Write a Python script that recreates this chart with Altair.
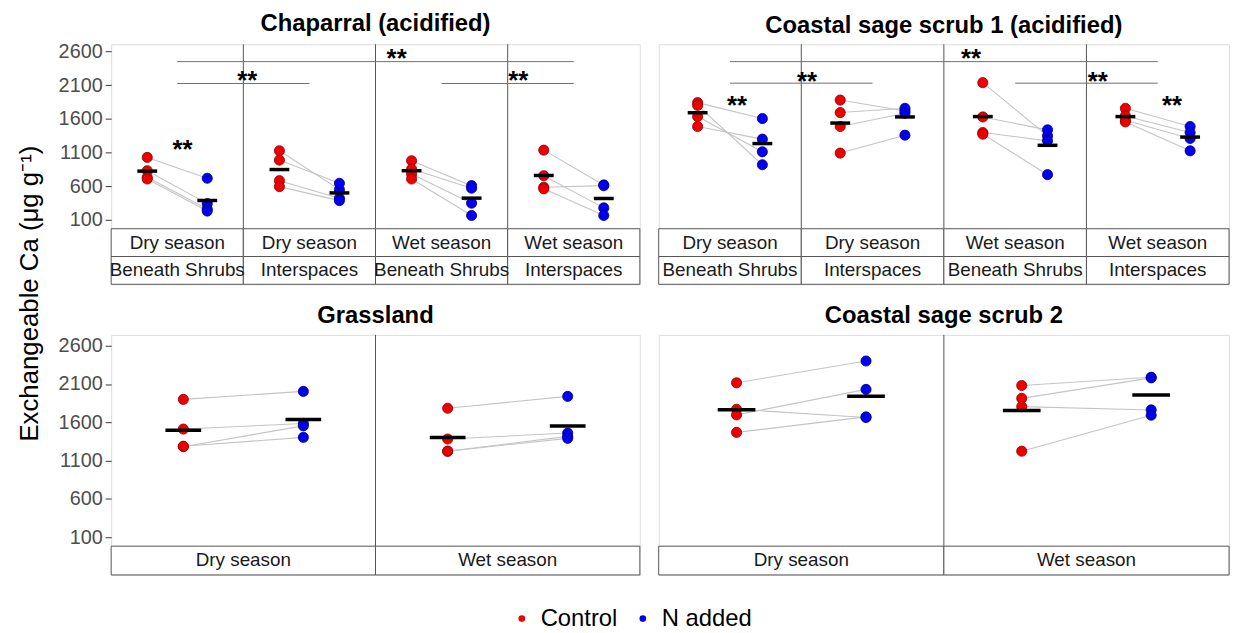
import altair as alt
import pandas as pd

FONT = "Liberation Sans"
TREAT = ["Control", "N added"]
FILLS = ["#ee0000", "#0000ee"]
OUTLINES = ["#8a0000", "#00008a"]
Y_TICKS = [100, 600, 1100, 1600, 2100, 2600]
Y_TITLE = "Exchangeable Ca (\u03bcg g\u207b\u00b9)"

# ---------------- data ----------------
# Chaparral (acidified): groups = season x location
chap_season = ["Dry season", "Dry season", "Wet season", "Wet season"]
chap_site = ["Beneath Shrubs", "Interspaces", "Beneath Shrubs", "Interspaces"]
chap_control = [[1027, 829, 731, 706], [1125, 987, 681, 593],
                [977, 854, 780, 706], [1135, 755, 584, 560]]
chap_nadded = [[717, 340, 260, 230], [548, 643, 421, 385],
               [607, 569, 347, 164], [618, 277, 607, 164]]

# Coastal sage scrub 1 (acidified)
css1_season = ["Dry season", "Dry season", "Wet season", "Wet season"]
css1_site = ["Beneath Shrubs", "Interspaces", "Beneath Shrubs", "Interspaces"]
css1_control = [[1841, 1801, 1634, 1486], [1879, 1693, 1486, 1091],
                [2137, 1628, 1397, 1372], [1756, 1643, 1579, 1554]]
css1_nadded = [[1604, 918, 1110, 1298], [1716, 1756, 1683, 1357],
               [1347, 1436, 1273, 770], [1486, 1397, 1308, 1125]]

# Grassland
grass_season = ["Dry season", "Wet season"]
grass_control = [[1900, 1512, 1282, 1288], [1784, 1382, 1223, 1223]]
grass_nadded = [[2004, 1585, 1554, 1404], [1939, 1460, 1417, 1391]]

# Coastal sage scrub 2
css2_season = ["Dry season", "Wet season"]
css2_control = [[2116, 1771, 1697, 1469], [2081, 1913, 1805, 1223]]
css2_nadded = [[2401, 1663, 2030, 1671], [2189, 2181, 1762, 1693]]

# significance brackets (group index from -> to, value level)
chap_bar_from = [0, 0, 2]
chap_bar_to = [3, 1, 3]
chap_bar_y = [2450, 2125, 2125]
chap_star_x = [0.54, 1.03, 2.16, 3.08]
chap_star_y = [1234, 2259, 2585, 2259]

css1_bar_from = [0, 0, 2]
css1_bar_to = [3, 1, 3]
css1_bar_y = [2450, 2130, 2130]
css1_star_x = [0.55, 1.04, 2.19, 3.08, 3.6]
css1_star_y = [1900, 2244, 2585, 2244, 1900]


def points_df(control, nadded):
    rows = []
    for g, (cs, ns) in enumerate(zip(control, nadded)):
        for r, (c, v) in enumerate(zip(cs, ns)):
            rows.append(dict(g=g, rep=r, treatment="Control", value=c))
            rows.append(dict(g=g, rep=r, treatment="N added", value=v))
    return pd.DataFrame(rows)


def strip_df(rows_labels):
    rows = []
    for ri, labels in enumerate(rows_labels):
        for g, lab in enumerate(labels):
            rows.append(dict(g=g, row=ri, label=lab))
    return pd.DataFrame(rows)


def make_panel(pts, n_groups, width, height, ydom, strip_rows, strip_h,
               tick_w, title, left_axis, bars=None, stars=None):
    xs = alt.Scale(domain=[0, n_groups], nice=False, zero=False)
    ys = alt.Scale(domain=ydom, nice=False, zero=False)
    if left_axis:
        yaxis = alt.Axis(values=Y_TICKS, format="d", grid=False, domain=False,
                         labelFontSize=20, labelFont=FONT, labelColor="#4d4d4d",
                         tickColor="#333333", tickSize=6, labelPadding=3)
    else:
        yaxis = None
    X = alt.X("xpos:Q", scale=xs, axis=None)
    Y = alt.Y("value:Q", scale=ys, axis=yaxis, title=None)

    base = alt.Chart(pts).transform_calculate(
        xpos="datum.g + (datum.treatment == 'Control' ? 0.273 : 0.727)")

    groups = pd.DataFrame(dict(g=list(range(n_groups))))
    seps = alt.Chart(groups).transform_filter("datum.g > 0").mark_rule(
        color="#555555", strokeWidth=1).encode(x=alt.X("g:Q", scale=xs, axis=None))

    lines = base.mark_line(color="#c4c4c4", strokeWidth=1.1).encode(
        X, Y, detail=["g:N", "rep:N"], order="xpos:Q")

    pts_layer = base.mark_point(filled=True, shape="circle", size=105,
                                strokeWidth=0.8, opacity=1).encode(
        X, Y,
        fill=alt.Fill("treatment:N",
                      scale=alt.Scale(domain=TREAT, range=FILLS),
                      legend=alt.Legend(title=None, orient="none", direction="horizontal",
                                        legendX=402, legendY=567,
                                        labelFontSize=24, labelFont=FONT, labelColor="black",
                                        symbolType="circle", symbolSize=45,
                                        symbolStrokeWidth=0, columnPadding=13,
                                        labelOffset=7)),
        stroke=alt.Stroke("treatment:N",
                          scale=alt.Scale(domain=TREAT, range=OUTLINES), legend=None))

    means = base.mark_tick(orient="horizontal", size=tick_w, thickness=3.5,
                           color="black", opacity=1).encode(
        X, alt.Y("mean(value):Q", scale=ys, axis=yaxis, title=None))

    layers = [seps, lines, pts_layer, means]
    if bars is not None:
        bar_layer = alt.Chart(bars).transform_calculate(
            xa="datum.gfrom + 0.5", xb="datum.gto + 0.5").mark_rule(
            color="#6e6e6e", strokeWidth=1).encode(
            x=alt.X("xa:Q", scale=xs, axis=None), x2="xb:Q",
            y=alt.Y("y:Q", scale=ys, axis=yaxis, title=None))
        star_layer = alt.Chart(stars).mark_text(
            font=FONT, fontSize=26, fontWeight="bold", color="black",
            baseline="alphabetic", dy=15).encode(
            x=alt.X("x:Q", scale=xs, axis=None),
            y=alt.Y("y:Q", scale=ys, axis=yaxis, title=None),
            text="label:N")
        layers += [bar_layer, star_layer]

    plot = alt.layer(*layers).properties(
        width=width, height=height,
        title=alt.TitleParams(title, font=FONT, fontSize=24, fontWeight="bold",
                              anchor="middle", frame="group", offset=6, color="black"))

    sdf = strip_df(strip_rows)
    sbase = alt.Chart(sdf).transform_calculate(g2="datum.g + 1", gc="datum.g + 0.5")
    srect = sbase.mark_rect(fill="white", stroke="#555555", strokeWidth=1).encode(
        x=alt.X("g:Q", scale=xs, axis=None), x2="g2:Q",
        y=alt.Y("row:O", scale=alt.Scale(paddingInner=0, paddingOuter=0), axis=None))
    stext = sbase.mark_text(font=FONT, fontSize=19, color="#1a1a1a").encode(
        x=alt.X("gc:Q", scale=xs, axis=None),
        y=alt.Y("row:O", scale=alt.Scale(paddingInner=0, paddingOuter=0), axis=None),
        text="label:N")
    strip = alt.layer(srect, stext).properties(width=width, height=strip_h)

    return alt.vconcat(plot, strip, spacing=0, bounds="flush")


TOP_DOM = [-33, 2708]
BOT_DOM = [-17, 2742]

chap = make_panel(points_df(chap_control, chap_nadded), 4, 533, 186, TOP_DOM,
                  [chap_season, chap_site], 56, 20, "Chaparral (acidified)", True,
                  bars=pd.DataFrame(dict(gfrom=chap_bar_from, gto=chap_bar_to, y=chap_bar_y)),
                  stars=pd.DataFrame(dict(x=chap_star_x, y=chap_star_y,
                                          label=["**"] * len(chap_star_x))))
css1 = make_panel(points_df(css1_control, css1_nadded), 4, 575, 186, TOP_DOM,
                  [css1_season, css1_site], 56, 20, "Coastal sage scrub 1 (acidified)", False,
                  bars=pd.DataFrame(dict(gfrom=css1_bar_from, gto=css1_bar_to, y=css1_bar_y)),
                  stars=pd.DataFrame(dict(x=css1_star_x, y=css1_star_y,
                                          label=["**"] * len(css1_star_x))))
grass = make_panel(points_df(grass_control, grass_nadded), 2, 533, 213, BOT_DOM,
                   [grass_season], 29, 36, "Grassland", True)
css2 = make_panel(points_df(css2_control, css2_nadded), 2, 575, 213, BOT_DOM,
                  [css2_season], 29, 38, "Coastal sage scrub 2", False)

left_col = alt.vconcat(chap, grass, spacing=19).properties(
    title=alt.TitleParams(Y_TITLE, orient="left", anchor="middle", font=FONT,
                          fontSize=26, fontWeight="normal", color="black", offset=15))
right_col = alt.vconcat(css1, css2, spacing=19)

chart = alt.hconcat(left_col, right_col, spacing=17).properties(
    padding={"left": 9, "top": 0, "right": 5, "bottom": 0}
).configure_view(stroke="#555555", strokeWidth=1).configure(font=FONT, background="white")

chart.save("out.html", embed_options={"renderer": "svg", "actions": False})
